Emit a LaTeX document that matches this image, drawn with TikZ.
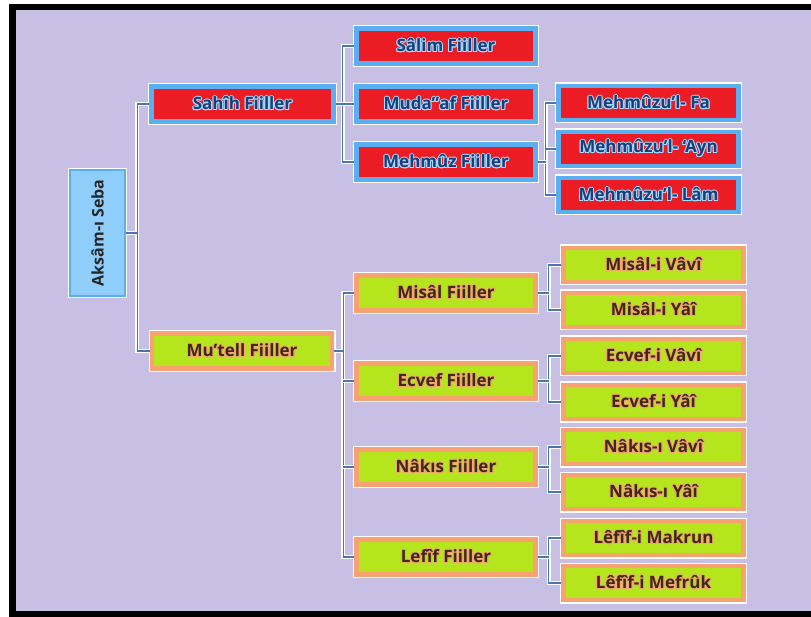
\documentclass[tikz,border=0pt]{standalone}
\usepackage{fontspec}
\setmainfont{Open Sans}
\usepackage{contour}
\usepackage{graphicx}
\usetikzlibrary{positioning}

\definecolor{bgpurple}{HTML}{C8C0E4}
\definecolor{sahred}{HTML}{EC1C24}
\definecolor{skyframe}{HTML}{5AAEF2}
\definecolor{rootfill}{HTML}{8FCDFB}
\definecolor{limefill}{HTML}{B5E51D}
\definecolor{peachframe}{HTML}{F7A270}
\definecolor{navytext}{HTML}{1A3F78}
\definecolor{browntext}{HTML}{3E2A16}
\definecolor{glowblue}{HTML}{A9DAFF}
\definecolor{gloworange}{HTML}{F3A56E}
\definecolor{linkblue}{HTML}{4A74B8}

\contourlength{1pt}
\contournumber{12}
\newcommand{\redtxt}[1]{\textcolor{navytext}{\contour{glowblue}{#1}}}
\newcommand{\limetxt}[1]{\textcolor{browntext}{\contour{gloworange}{#1}}}

\begin{document}
\begin{tikzpicture}[x=1pt, y=-1pt,
    rootbox/.style={rectangle, fill=rootfill, draw=skyframe, line width=2.5pt,
               minimum width=55pt, minimum height=126pt, inner sep=0pt,
               font=\bfseries\fontsize{16}{16}\selectfont, text=black!85,
               preaction={draw=white, line width=4.5pt}},
    sahbox/.style={rectangle, fill=sahred, draw=skyframe, line width=4.5pt,
               minimum height=35pt, inner sep=0pt,
               font=\bfseries\fontsize{17}{17}\selectfont,
               preaction={draw=white, line width=7pt}},
    limebox/.style={rectangle, fill=limefill, draw=peachframe, line width=4.5pt,
               minimum height=35pt, inner sep=0pt,
               font=\bfseries\fontsize{17}{17}\selectfont,
               preaction={draw=white, line width=7pt}},
    link/.style={draw=linkblue, line width=1.4pt,
               preaction={draw=white, line width=3.6pt}}]
  \useasboundingbox (0,0) rectangle (811,617);
  % frame
  \fill[white] (0,0) rectangle (811,617);
  \fill[black] (9,4) rectangle (811,617);
  \fill[bgpurple] (16,10) rectangle (811,611);

  % root
  \node[rootbox] (root) at (97.5,233) {\rotatebox{90}{Aksâm-ı Seba}};
  % level 1
  \node[sahbox, minimum width=182pt] (sahih)  at (242.5,104) {\redtxt{Sahîh Fiiller}};
  \node[limebox, minimum width=180pt] (mutell) at (242,351) {\limetxt{Mu’tell Fiiller}};
  % level 2, sahih
  \node[sahbox, minimum width=179pt] (salim)  at (446,46)  {\redtxt{Sâlim Fiiller}};
  \node[sahbox, minimum width=179pt] (mudaaf) at (446,104) {\redtxt{Muda”af Fiiller}};
  \node[sahbox, minimum width=179pt] (mehmuz) at (446,162) {\redtxt{Mehmûz Fiiller}};
  % level 3, mehmuz
  \node[sahbox, minimum width=180pt, minimum height=34pt] (fa)  at (648.5,103) {\redtxt{Mehmûzu’l- Fa}};
  \node[sahbox, minimum width=180pt, minimum height=34pt] (ayn) at (648.5,149) {\redtxt{Mehmûzu’l- ‘Ayn}};
  \node[sahbox, minimum width=180pt, minimum height=34pt] (lam) at (648.5,195) {\redtxt{Mehmûzu’l- Lâm}};
  % level 2, mutell
  \node[limebox, minimum width=179pt] (misal) at (446,293) {\limetxt{Misâl Fiiller}};
  \node[limebox, minimum width=179pt] (ecvef) at (446,381) {\limetxt{Ecvef Fiiller}};
  \node[limebox, minimum width=179pt] (nakis) at (446,467) {\limetxt{Nâkıs Fiiller}};
  \node[limebox, minimum width=179pt] (lefif) at (446,557) {\limetxt{Lefîf Fiiller}};
  % level 3, mutell
  \node[limebox, minimum width=180pt, minimum height=34pt] (mvavi) at (653.5,265) {\limetxt{Misâl-i Vâvî}};
  \node[limebox, minimum width=180pt, minimum height=34pt] (myai)  at (653.5,310) {\limetxt{Misâl-i Yâî}};
  \node[limebox, minimum width=180pt, minimum height=34pt] (evavi) at (653.5,356) {\limetxt{Ecvef-i Vâvî}};
  \node[limebox, minimum width=180pt, minimum height=34pt] (eyai)  at (653.5,402) {\limetxt{Ecvef-i Yâî}};
  \node[limebox, minimum width=180pt, minimum height=34pt] (nvavi) at (653.5,447) {\limetxt{Nâkıs-ı Vâvî}};
  \node[limebox, minimum width=180pt, minimum height=34pt] (nyai)  at (653.5,492) {\limetxt{Nâkıs-ı Yâî}};
  \node[limebox, minimum width=180pt, minimum height=34pt] (lmak)  at (653.5,538) {\limetxt{Lêfîf-i Makrun}};
  \node[limebox, minimum width=180pt, minimum height=34pt] (lmef)  at (653.5,583) {\limetxt{Lêfîf-i Mefrûk}};

  % connectors
  \draw[link] (sahih.west) -| ([xshift=11pt]root.east) |- (mutell.west);
  \draw[link] (root.east) -- ++(11,0);
  \draw[link] (salim.west) -| ([xshift=7pt]sahih.east) |- (mehmuz.west);
  \draw[link] (sahih.east) -- (mudaaf.west);
  \draw[link] (fa.west) -| ([xshift=8pt]mehmuz.east) |- (lam.west);
  \draw[link] (mehmuz.east) -- ++(8,0);
  \draw[link] ([xshift=8pt]mehmuz.east |- ayn.west) -- (ayn.west);
  \draw[link] (misal.west) -| ([xshift=9pt]mutell.east) |- (lefif.west);
  \draw[link] (mutell.east) -- ++(9,0);
  \draw[link] ([xshift=9pt]mutell.east |- ecvef.west) -- (ecvef.west);
  \draw[link] ([xshift=9pt]mutell.east |- nakis.west) -- (nakis.west);
  \foreach \pn/\a/\b in {misal/mvavi/myai, ecvef/evavi/eyai, nakis/nvavi/nyai, lefif/lmak/lmef}{
    \draw[link] (\a.west) -| ([xshift=11pt]\pn.east) |- (\b.west);
    \draw[link] (\pn.east) -- ++(11,0);
  }
\end{tikzpicture}
\end{document}
